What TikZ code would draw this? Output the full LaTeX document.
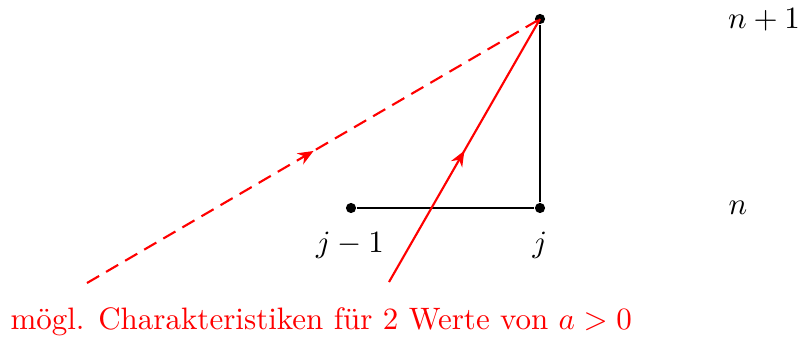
\documentclass[tikz,border=0pt]{standalone}
\usetikzlibrary{arrows.meta,decorations.markings}
\begin{document}
\begin{tikzpicture}[x=0.3533pt,y=-0.3533pt,
  dot/.style={circle,fill=black,inner sep=0pt,minimum size=3.6pt},
  grid line/.style={black,line width=0.75pt},
  char/.style={red,line width=0.75pt,
    postaction={decorate},
    decoration={markings,mark=at position 0.5 with {\arrow{Stealth[length=5.5pt,width=4.5pt]}}}},
  lbl/.style={inner sep=0pt,font=\fontsize{10.95}{13}\selectfont}]
\useasboundingbox (0,0) rectangle (802,338);
\node[dot] (t) at (540,19) {};
\node[dot] (b) at (540,208) {};
\node[dot] (l) at (351,208) {};
\coordinate (s1) at (87,283);
\coordinate (s2) at (389,282);
\draw[grid line] (l) -- (b) -- (t);
\draw[char,dash pattern=on 4.95pt off 2.85pt] (s1) -- (t.center);
\draw[char] (s2) -- (t.center);
\node[lbl] (np1) at (764,20) {$n+1$};
\node[lbl] (n) at (738,208) {$n$};
\node[lbl,anchor=base] (jm1) at (350,252) {$j-1$};
\node[lbl,anchor=base] (j) at (540,252) {$j$};
\node[lbl,anchor=base west,red] (txt) at (10,329) {m\"ogl. Charakteristiken f\"ur 2 Werte von $a>0$};
\end{tikzpicture}
\end{document}
